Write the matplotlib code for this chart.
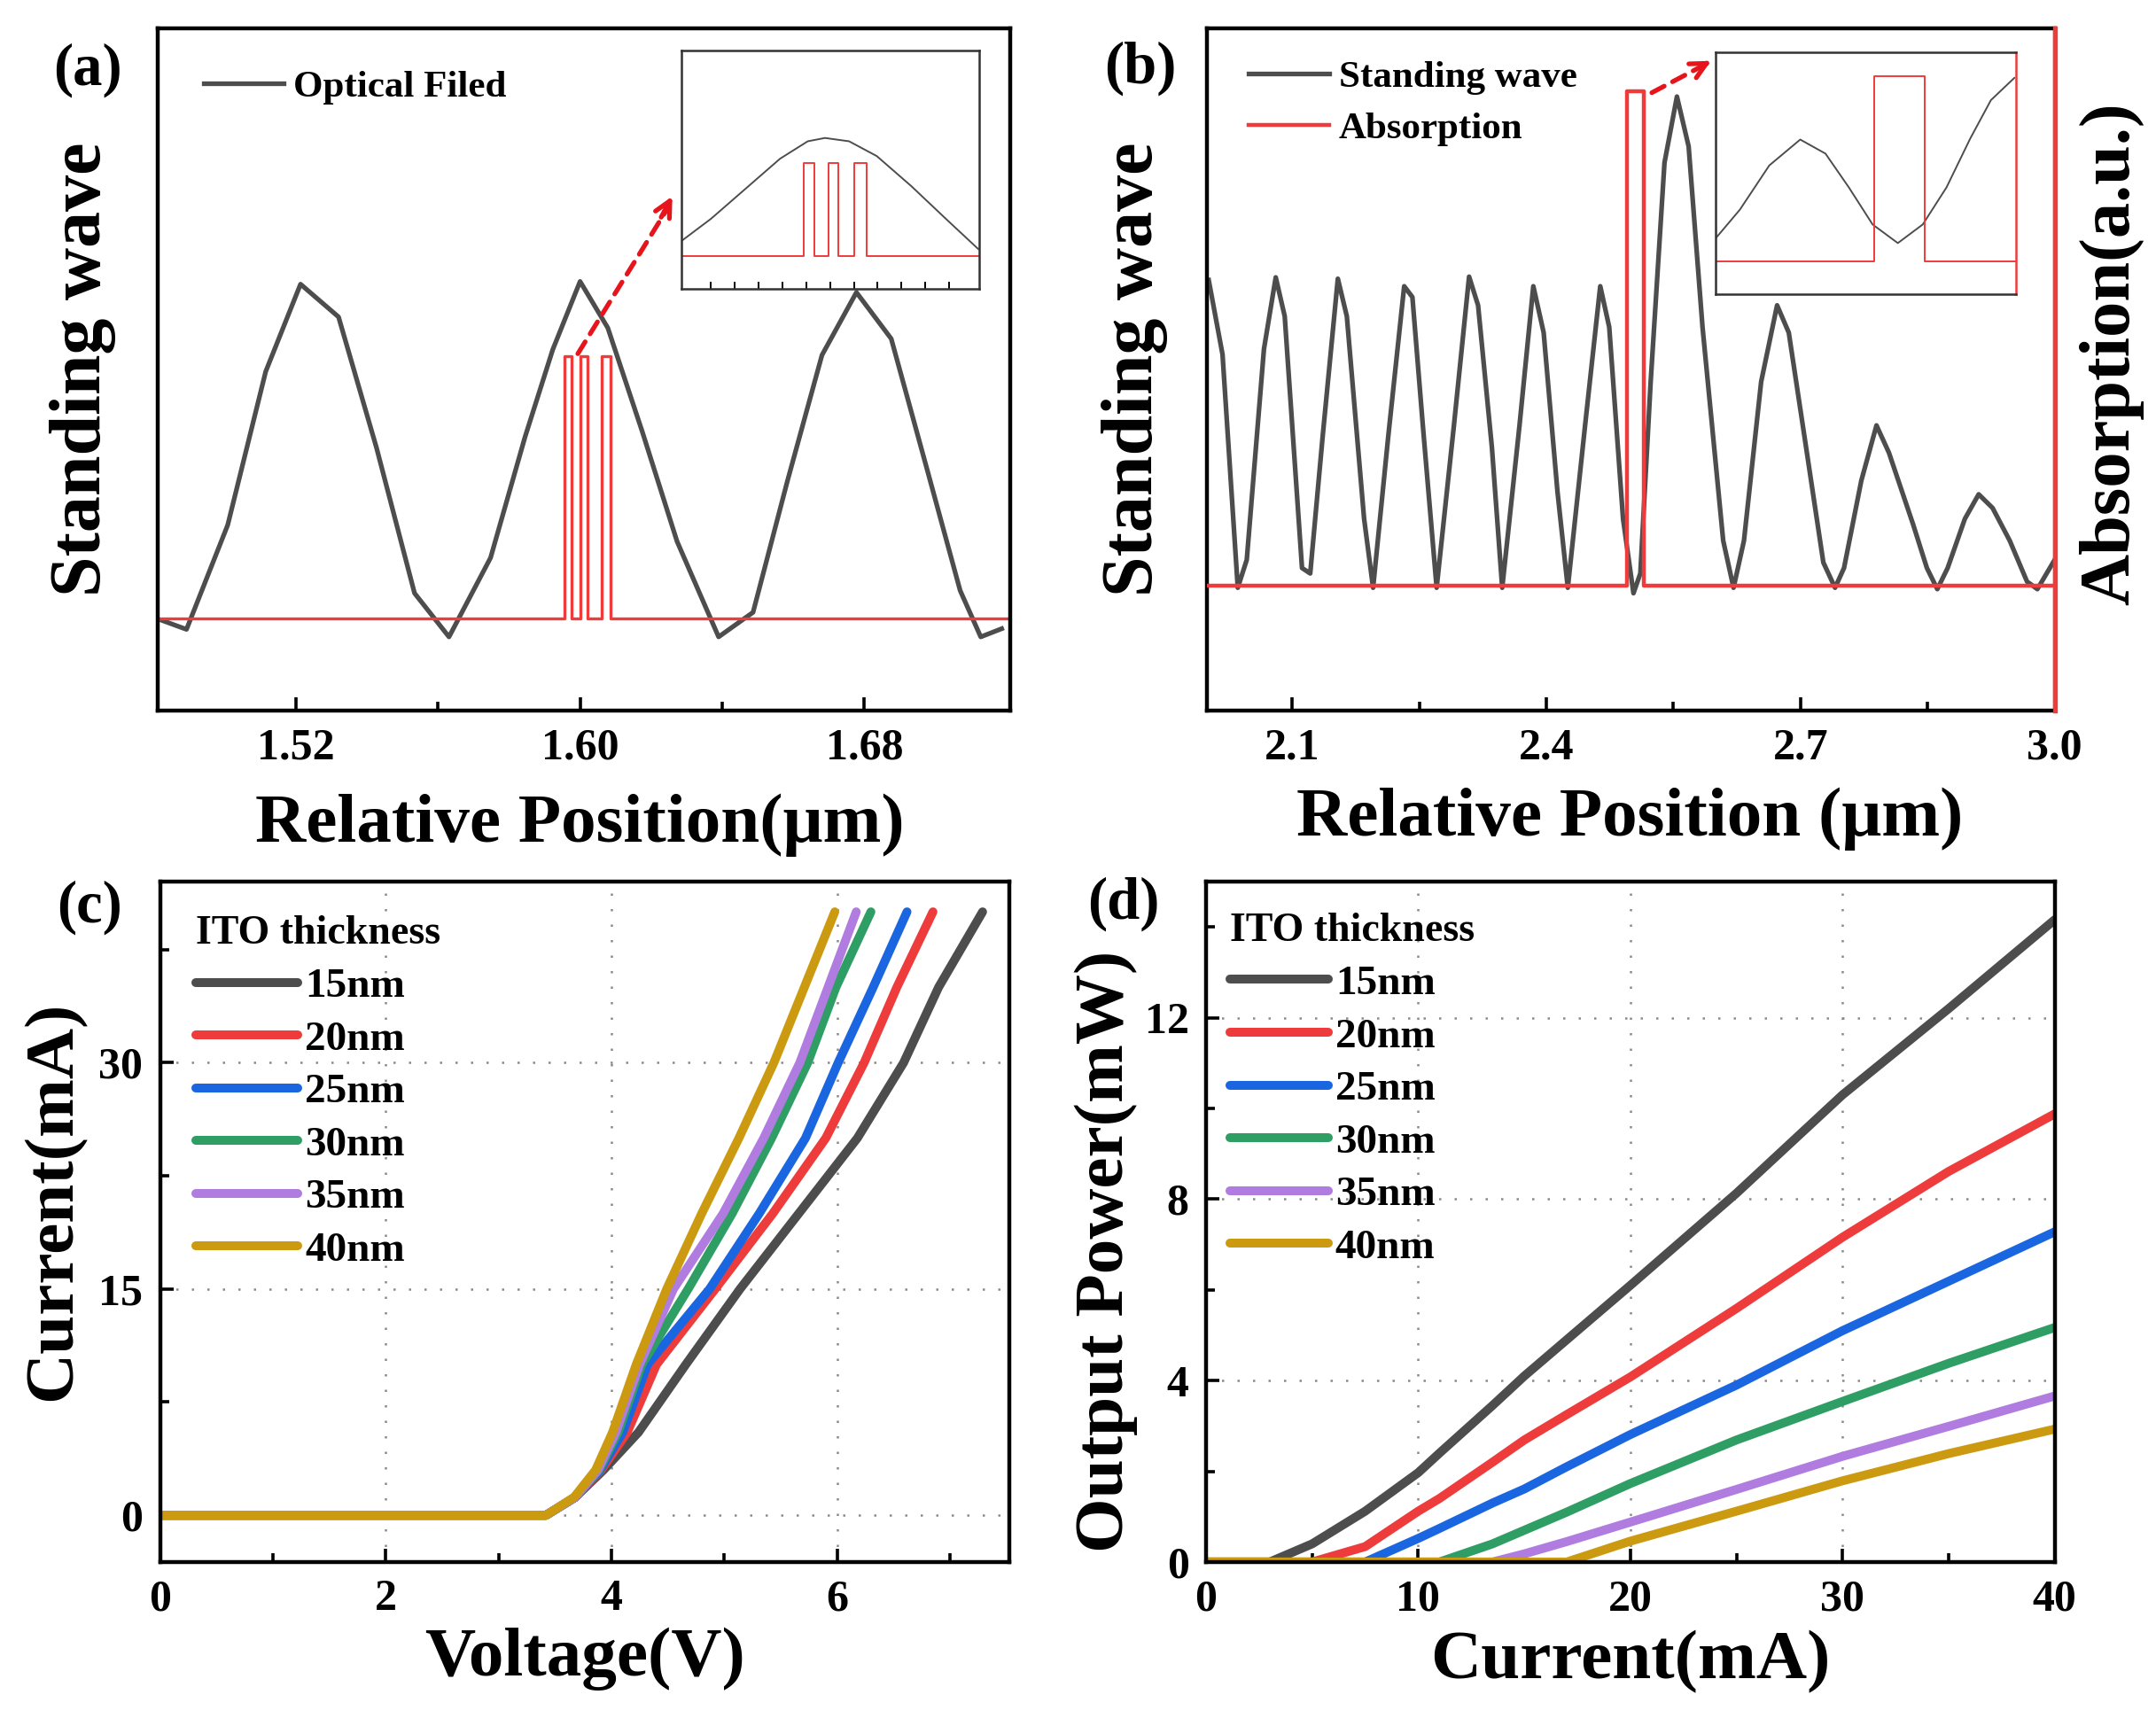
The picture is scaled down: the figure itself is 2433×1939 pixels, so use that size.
import numpy as np
import matplotlib.pyplot as plt
from matplotlib.ticker import FixedLocator, FormatStrFormatter

plt.rcParams['font.family'] = ['Liberation Serif', 'DejaVu Serif']
plt.rcParams['font.weight'] = 'bold'
plt.rcParams['axes.labelweight'] = 'bold'
plt.rcParams['mathtext.default'] = 'regular'

# ---- data ----
# (a) optical field (normalised height) vs position (um)
a_pos = [1.4824, 1.4892, 1.5008, 1.5115, 1.5213, 1.532, 1.5427, 1.5534, 1.5631, 1.5748,
         1.5845, 1.5923, 1.600, 1.6078, 1.6175, 1.6273, 1.639, 1.6487, 1.6584, 1.6681,
         1.6778, 1.6876, 1.6973, 1.707, 1.7128, 1.7187]
a_field = [0.132, 0.119, 0.272, 0.497, 0.625, 0.577, 0.385, 0.172, 0.108, 0.224,
           0.401, 0.529, 0.629, 0.561, 0.409, 0.248, 0.108, 0.144, 0.337, 0.521,
           0.613, 0.545, 0.361, 0.176, 0.108, 0.120]
a_abs_x = [1.481, 1.5955, 1.5955, 1.5975, 1.5975, 1.600, 1.600, 1.602, 1.602,
           1.606, 1.606, 1.6085, 1.6085, 1.721]
a_abs_y = [0.135, 0.135, 0.519, 0.519, 0.135, 0.135, 0.519, 0.519, 0.135,
           0.135, 0.519, 0.519, 0.135, 0.135]
# (a) inset (zoomed, normalised)
ia_x = [0.002, 0.10, 0.216, 0.332, 0.425, 0.483, 0.564, 0.657, 0.773, 0.889, 0.998]
ia_y = [0.202, 0.294, 0.42, 0.546, 0.619, 0.633, 0.619, 0.557, 0.431, 0.294, 0.167]
ia_abs_x = [0.0, 0.413, 0.413, 0.448, 0.448, 0.494, 0.494, 0.529, 0.529,
            0.582, 0.582, 0.622, 0.622, 1.0]
ia_abs_y = [0.138, 0.138, 0.528, 0.528, 0.138, 0.138, 0.528, 0.528, 0.138,
            0.138, 0.528, 0.528, 0.138, 0.138]

# (b) standing wave vs position (um)
b_pos = [2.0016, 2.0179, 2.0359, 2.0465, 2.0668, 2.0807, 2.0913, 2.1117, 2.1214, 2.1361,
         2.154, 2.1646, 2.185, 2.1956, 2.2135, 2.2323, 2.242, 2.2543, 2.2706, 2.291,
         2.3089, 2.3195, 2.3358, 2.348, 2.3684, 2.3847, 2.3969, 2.4132, 2.4254, 2.4458,
         2.4637, 2.4743, 2.4906, 2.5029, 2.511, 2.5232, 2.5395, 2.5542, 2.568, 2.5844,
         2.6088, 2.621, 2.6333, 2.6536, 2.6724, 2.6862, 2.7066, 2.727, 2.7408, 2.7514,
         2.7718, 2.7897, 2.8044, 2.8329, 2.8492, 2.8615, 2.8737, 2.894, 2.9103, 2.9267,
         2.947, 2.9674, 2.9796, 3.0]
b_wave = [0.631, 0.522, 0.180, 0.221, 0.530, 0.635, 0.578, 0.209, 0.201, 0.402,
          0.633, 0.578, 0.281, 0.180, 0.402, 0.622, 0.606, 0.418, 0.180, 0.418,
          0.636, 0.594, 0.386, 0.180, 0.418, 0.622, 0.554, 0.321, 0.180, 0.418,
          0.622, 0.562, 0.281, 0.172, 0.201, 0.482, 0.803, 0.900, 0.827, 0.562,
          0.249, 0.180, 0.249, 0.482, 0.594, 0.554, 0.386, 0.217, 0.180, 0.209,
          0.337, 0.418, 0.378, 0.273, 0.209, 0.178, 0.209, 0.281, 0.317, 0.297,
          0.249, 0.189, 0.178, 0.221]
b_abs_x = [2.0, 2.495, 2.495, 2.515, 2.515, 3.0]
b_abs_y = [0.183, 0.183, 0.908, 0.908, 0.183, 0.183]
# (b) inset
ib_x = [0.002, 0.081, 0.179, 0.282, 0.366, 0.444, 0.523, 0.607, 0.69, 0.769, 0.848, 0.917, 0.995]
ib_y = [0.233, 0.349, 0.532, 0.639, 0.581, 0.441, 0.288, 0.211, 0.288, 0.441, 0.643, 0.802, 0.894]
ib_abs_x = [0.0, 0.528, 0.528, 0.697, 0.697, 1.0]
ib_abs_y = [0.135, 0.135, 0.902, 0.902, 0.135, 0.135]

# (c) I-V curves
thickness = ['15nm', '20nm', '25nm', '30nm', '35nm', '40nm']
colors = ['#4d4d4d', '#ee3b3b', '#1a66e0', '#2e9e64', '#b07ce0', '#cc9a10']
iv_current = [0, 0, 1.2, 3.0, 5.5, 10, 15, 20, 25, 30, 35, 40]
iv_v15 = [0, 3.42, 3.68, 3.93, 4.24, 4.66, 5.14, 5.66, 6.18, 6.59, 6.90, 7.29]
iv_v20 = [0, 3.42, 3.68, 3.91, 4.14, 4.40, 4.92, 5.43, 5.90, 6.24, 6.53, 6.85]
iv_v25 = [0, 3.42, 3.68, 3.90, 4.10, 4.32, 4.87, 5.31, 5.72, 6.01, 6.32, 6.62]
iv_v30 = [0, 3.42, 3.68, 3.89, 4.06, 4.27, 4.68, 5.07, 5.42, 5.74, 5.99, 6.30]
iv_v35 = [0, 3.42, 3.68, 3.88, 4.04, 4.25, 4.55, 4.99, 5.35, 5.67, 5.92, 6.17]
iv_v40 = [0, 3.42, 3.67, 3.86, 4.01, 4.22, 4.49, 4.80, 5.13, 5.44, 5.71, 5.98]

# (d) L-I curves
li_current = [0, 3, 5, 7.5, 10, 11, 13.5, 15, 17, 20, 25, 30, 35, 40]
li_p15 = [0, 0, 0.40, 1.12, 1.97, 2.40, 3.45, 4.10, 4.90, 6.10, 8.13, 10.30, 12.20, 14.16]
li_p20 = [0, 0, 0, 0.34, 1.12, 1.40, 2.20, 2.69, 3.25, 4.08, 5.59, 7.16, 8.61, 9.88]
li_p25 = [0, 0, 0, 0, 0.52, 0.74, 1.30, 1.61, 2.10, 2.81, 3.90, 5.10, 6.19, 7.28]
li_p30 = [0, 0, 0, 0, 0, 0, 0.40, 0.70, 1.10, 1.73, 2.69, 3.54, 4.38, 5.17]
li_p35 = [0, 0, 0, 0, 0, 0, 0, 0.18, 0.45, 0.88, 1.60, 2.33, 2.99, 3.66]
li_p40 = [0, 0, 0, 0, 0, 0, 0, 0, 0, 0.46, 1.12, 1.79, 2.39, 2.93]

# ---- style helpers ----
black = '#4d4d4d'
red = '#ee3b3b'
spine_w = 3.2
tick_fs = 36
lab_fs = 57


def style_axes(ax, right_color='k'):
    for s in ax.spines.values():
        s.set_linewidth(spine_w)
        s.set_color('k')
    ax.spines['right'].set_color(right_color)
    ax.tick_params(which='both', direction='in', top=False, right=False,
                   width=2.6, labelsize=tick_fs, pad=14)
    ax.tick_params(which='major', length=11)
    ax.tick_params(which='minor', length=7)


def dotted_grid(ax):
    ax.grid(True, which='major', color='#8a8a8a', linestyle=(0, (1, 6)), linewidth=1.8)


def leg_props(size):
    return {'size': size, 'weight': 'bold'}


fig = plt.figure(figsize=(24.33, 19.39), dpi=100)

# ---------------- (a) ----------------
ax_a = fig.add_axes([0.073, 0.5864, 0.3954, 0.3971])
ax_a.plot(a_pos, a_field, color=black, lw=3.8, label='Optical Filed')
ax_a.plot(a_abs_x, a_abs_y, color=red, lw=2.4)
ax_a.set_xlim(1.481, 1.721)
ax_a.set_ylim(0, 1)
style_axes(ax_a)
ax_a.xaxis.set_major_locator(FixedLocator([1.52, 1.60, 1.68]))
ax_a.xaxis.set_minor_locator(FixedLocator([1.56, 1.64]))
ax_a.xaxis.set_major_formatter(FormatStrFormatter('%.2f'))
ax_a.set_yticks([])
ax_a.set_xlabel('Relative Position(μm)', fontsize=lab_fs)
ax_a.xaxis.set_label_coords(0.496, -0.121)
ax_a.set_ylabel('Standing wave', fontsize=59)
ax_a.yaxis.set_label_coords(-0.048, 0.5)
ax_a.legend(loc='upper left', bbox_to_anchor=(0.054, 0.939), frameon=False,
            handlelength=2.1, handletextpad=0.26, borderpad=0,
            borderaxespad=0, prop=leg_props(31))
ax_a.annotate('', xy=(1.6245, 0.735), xytext=(1.599, 0.52),
              arrowprops=dict(arrowstyle='-', color='#e8141c', lw=3.8, linestyle=(0, (3, 2))))
ax_a.annotate('', xy=(1.6263, 0.757), xytext=(1.6225, 0.72),
              arrowprops=dict(arrowstyle='->', color='#e8141c', lw=3.8, mutation_scale=32))

ins_a = fig.add_axes([0.316, 0.8319, 0.138, 0.1387])
ins_a.plot(ia_x, ia_y, color=black, lw=1.4)
ins_a.plot(ia_abs_x, ia_abs_y, color=red, lw=1.4)
ins_a.set_xlim(0, 1)
ins_a.set_ylim(0, 1)
for s in ins_a.spines.values():
    s.set_linewidth(1.8)
    s.set_color('#333333')
ins_a.set_yticks([])
ins_a.xaxis.set_major_locator(FixedLocator([0.1, 0.26, 0.42, 0.58, 0.74, 0.9]))
ins_a.xaxis.set_minor_locator(FixedLocator([0.18, 0.34, 0.5, 0.66, 0.82]))
ins_a.tick_params(which='both', direction='in', length=6, width=1.4, labelbottom=False)

# ---------------- (b) ----------------
ax_b = fig.add_axes([0.560, 0.5864, 0.393, 0.3971])
ln1, = ax_b.plot(b_pos, b_wave, color=black, lw=3.8, label='Standing wave')
ax_b.set_xlim(2.0, 3.0)
ax_b.set_ylim(0, 1)
style_axes(ax_b, right_color=red)
ax_b.xaxis.set_major_locator(FixedLocator([2.1, 2.4, 2.7, 3.0]))
ax_b.xaxis.set_minor_locator(FixedLocator([2.25, 2.55, 2.85]))
ax_b.xaxis.set_major_formatter(FormatStrFormatter('%.1f'))
ax_b.set_yticks([])
ax_b.set_xlabel('Relative Position (μm)', fontsize=lab_fs)
ax_b.xaxis.set_label_coords(0.499, -0.113)
ax_b.set_ylabel('Standing wave', fontsize=59)
ax_b.yaxis.set_label_coords(-0.046, 0.5)

tw_b = ax_b.twinx()
ln2, = tw_b.plot(b_abs_x, b_abs_y, color=red, lw=3.2, label='Absorption')
tw_b.set_ylim(0, 1)
tw_b.set_yticks([])
for s in tw_b.spines.values():
    s.set_visible(False)
tw_b.spines['right'].set_visible(True)
tw_b.spines['right'].set_color(red)
tw_b.spines['right'].set_linewidth(spine_w + 0.6)
tw_b.set_ylabel('Absorption(a.u.)', fontsize=58)
tw_b.yaxis.set_label_coords(1.029, 0.523)
tw_b.legend(handles=[ln1, ln2], loc='upper left', bbox_to_anchor=(0.049, 0.953),
            frameon=False, handlelength=2.1, handletextpad=0.26, labelspacing=0.44,
            borderpad=0, borderaxespad=0, prop=leg_props(31))
tw_b.annotate('', xy=(2.592, 0.95), xytext=(2.522, 0.904),
              arrowprops=dict(arrowstyle='-', color='#e8141c', lw=3.8, linestyle=(0, (3, 2))))
tw_b.annotate('', xy=(2.597, 0.954), xytext=(2.585, 0.946),
              arrowprops=dict(arrowstyle='->', color='#e8141c', lw=3.8, mutation_scale=32))

ins_b = fig.add_axes([0.7957, 0.8288, 0.1393, 0.1408])
ins_b.plot(ib_x, ib_y, color=black, lw=1.4)
ins_b.plot(ib_abs_x, ib_abs_y, color=red, lw=1.4)
ins_b.set_xlim(0, 1)
ins_b.set_ylim(0, 1)
for s in ins_b.spines.values():
    s.set_linewidth(1.8)
    s.set_color('#333333')
ins_b.spines['right'].set_color(red)
ins_b.set_xticks([])
ins_b.set_yticks([])

# ---------------- (c) ----------------
ax_c = fig.add_axes([0.0743, 0.0908, 0.394, 0.396])
iv_series = [iv_v15, iv_v20, iv_v25, iv_v30, iv_v35, iv_v40]
for v, c, lab in zip(iv_series, colors, thickness):
    ax_c.plot(v, iv_current, color=c, lw=7.2, label=lab, solid_capstyle='round')
ax_c.set_xlim(0, 7.53)
ax_c.set_ylim(-3.1, 42)
style_axes(ax_c)
ax_c.xaxis.set_major_locator(FixedLocator([0, 2, 4, 6]))
ax_c.xaxis.set_minor_locator(FixedLocator([1, 3, 5, 7]))
ax_c.yaxis.set_major_locator(FixedLocator([0, 15, 30]))
ax_c.yaxis.set_minor_locator(FixedLocator([7.5, 22.5, 37.5]))
dotted_grid(ax_c)
ax_c.set_axisbelow(True)
ax_c.set_xlabel('Voltage(V)', fontsize=lab_fs)
ax_c.xaxis.set_label_coords(0.5, -0.096)
ax_c.set_ylabel('Current(mA)', fontsize=57)
ax_c.yaxis.set_label_coords(-0.088, 0.531)
ax_c.legend(loc='upper left', bbox_to_anchor=(0.042, 0.950), frameon=False,
            title='ITO thickness', handlelength=2.44, handletextpad=0.17,
            labelspacing=0.35, borderpad=0, borderaxespad=0,
            prop=leg_props(34), title_fontproperties=leg_props(33),
            alignment='left')

# ---------------- (d) ----------------
ax_d = fig.add_axes([0.5594, 0.0908, 0.3936, 0.396])
li_series = [li_p15, li_p20, li_p25, li_p30, li_p35, li_p40]
for p, c, lab in zip(li_series, colors, thickness):
    ax_d.plot(li_current, p, color=c, lw=7.2, label=lab, solid_capstyle='round')
ax_d.set_xlim(0, 40)
ax_d.set_ylim(0, 15)
style_axes(ax_d)
ax_d.xaxis.set_major_locator(FixedLocator([0, 10, 20, 30, 40]))
ax_d.xaxis.set_minor_locator(FixedLocator([5, 15, 25, 35]))
ax_d.yaxis.set_major_locator(FixedLocator([0, 4, 8, 12]))
ax_d.yaxis.set_minor_locator(FixedLocator([2, 6, 10, 14]))
dotted_grid(ax_d)
ax_d.set_axisbelow(True)
ax_d.set_xlabel('Current(mA)', fontsize=lab_fs)
ax_d.xaxis.set_label_coords(0.5, -0.1)
ax_d.set_ylabel('Output Power(mW)', fontsize=57)
ax_d.yaxis.set_label_coords(-0.08, 0.457)
ax_d.legend(loc='upper left', bbox_to_anchor=(0.028, 0.954), frameon=False,
            title='ITO thickness', handlelength=2.35, handletextpad=0.17,
            labelspacing=0.35, borderpad=0, borderaxespad=0,
            prop=leg_props(34), title_fontproperties=leg_props(33),
            alignment='left')

# panel tags
for x, y, t in [(0.0407, 0.959, '(a)'), (0.529, 0.960, '(b)'),
                (0.0415, 0.472, '(c)'), (0.521, 0.474, '(d)')]:
    fig.text(x, y, t, fontsize=48, fontweight='bold', ha='center', va='center')

fig.savefig('out.png', dpi=100)
